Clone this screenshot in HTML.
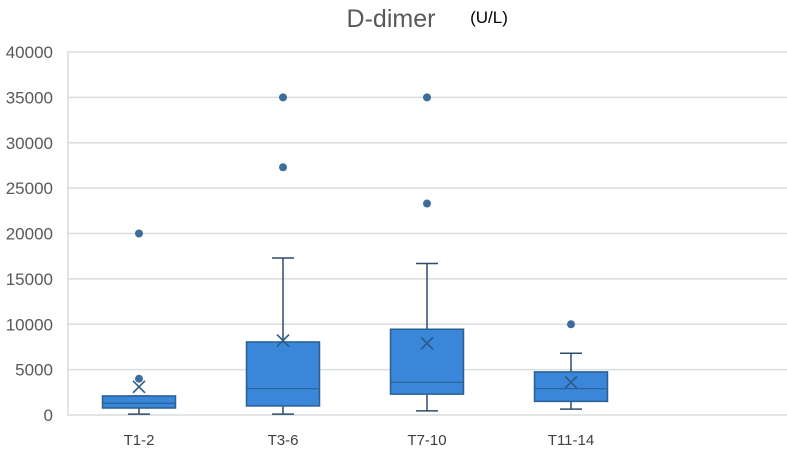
<!DOCTYPE html>
<html><head><meta charset="utf-8"><style>
body{margin:0;background:#fff;}
svg{display:block;font-family:"Liberation Sans",sans-serif;}
</style></head><body>
<svg id="chart" width="787" height="451">
<text x="391" y="27" font-size="25" fill="#595959" text-anchor="middle">D-dimer</text>
<text x="489" y="23" font-size="17" fill="#000" text-anchor="middle">(U/L)</text>
<g id="grid"></g><g id="marks"></g>
</svg>
<script>
const categories=["T1-2","T3-6","T7-10","T11-14",""];
const mins=[100,100,450,650];
const q1s=[770,1000,2300,1500];
const medians=[1300,2900,3600,2900];
const q3s=[2100,8050,9450,4750];
const maxs=[2100,17300,16700,6800];
const means=[3100,8200,7900,3600];
const outliers=[[4000,20000],[27300,35000],[23300,35000],[10000]];
const ticks=[0,5000,10000,15000,20000,25000,30000,35000,40000];

const NS="http://www.w3.org/2000/svg";
const X0=67,CW=144,Y0=415,YT=52,YMAX=40000;
const y=v=>Y0-(v/YMAX)*(Y0-YT);
const xc=i=>X0+CW*(i+0.5);
function mk(tag,attrs,parent){const e=document.createElementNS(NS,tag);for(const k in attrs)e.setAttribute(k,attrs[k]);parent.appendChild(e);return e;}
const grid=document.getElementById('grid'),marks=document.getElementById('marks');
ticks.forEach(t=>{
 const l=mk('line',{x1:X0,x2:787,y1:y(t),y2:y(t),stroke:'#d9dede','stroke-width':1.5},grid);
 
 
 const tx=mk('text',{x:53,y:y(t)+6,'font-size':17,fill:'#595959','text-anchor':'end'},grid);
 tx.textContent=t;
 
 
});
const ax=mk('line',{x1:X0+1,x2:X0+1,y1:YT,y2:Y0,stroke:'#d9dede','stroke-width':1.5},grid);


categories.forEach((c,i)=>{
 const tx=mk('text',{x:xc(i),y:445,'font-size':15,fill:'#404040','text-anchor':'middle'},grid);
 tx.textContent=c;
 
 
});
const BW=73,WC='#2d4b66';
mins.forEach((mn,i)=>{
 const cx=xc(i);
 const g=mk('g',{},marks);
 
 
 mk('line',{x1:cx,x2:cx,y1:y(mn),y2:y(q1s[i]),stroke:WC,'stroke-width':1.5},g);
 mk('line',{x1:cx,x2:cx,y1:y(maxs[i]),y2:y(q3s[i]),stroke:WC,'stroke-width':1.5},g);
 mk('line',{x1:cx-11,x2:cx+11,y1:y(mn),y2:y(mn),stroke:WC,'stroke-width':1.5},g);
 mk('line',{x1:cx-11,x2:cx+11,y1:y(maxs[i]),y2:y(maxs[i]),stroke:WC,'stroke-width':1.5},g);
 mk('rect',{x:cx-BW/2,y:y(q3s[i]),width:BW,height:y(q1s[i])-y(q3s[i]),fill:'#3a86d9',stroke:'#2a5f93','stroke-width':1.5},g);
 mk('line',{x1:cx-BW/2,x2:cx+BW/2,y1:y(medians[i]),y2:y(medians[i]),stroke:'#2a5f93','stroke-width':1.2},g);
 const my=y(means[i]);
 mk('path',{d:`M${cx-6} ${my-6}L${cx+6} ${my+6}M${cx+6} ${my-6}L${cx-6} ${my+6}`,stroke:'#2b5a88','stroke-width':1.6,fill:'none'},g);
 outliers[i].forEach(o=>{
  const d=mk('circle',{cx:cx,cy:y(o),r:4,fill:'#3d6d9c'},g);
  
  
 });
});
</script>
</body></html>
